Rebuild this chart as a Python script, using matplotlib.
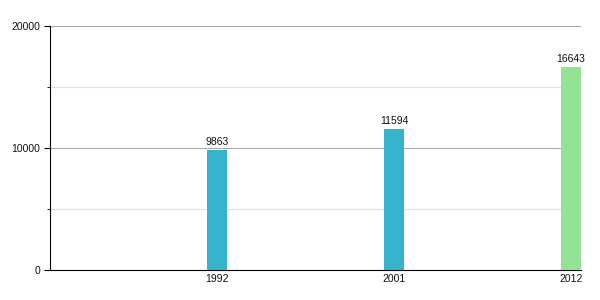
import matplotlib.pyplot as plt
from matplotlib.ticker import MultipleLocator

plt.rcParams['font.family'] = ['Liberation Sans', 'DejaVu Sans']

years = ['1992', '2001', '2012']
values = [9863, 11594, 16643]
colors = ['#35b3cd', '#35b3cd', '#94e394']

fig = plt.figure(figsize=(6, 3), dpi=100)
ax = fig.add_axes([50 / 600, 30 / 300, 531 / 600, 244 / 300])

x = list(range(len(years)))
ax.bar(x, values, width=0.113, color=colors, zorder=3)

for xi, v in zip(x, values):
    ax.annotate(str(v), (xi, v), xytext=(0, 2), textcoords='offset points',
                ha='center', va='bottom', fontsize=7.5, color='#111111')

ax.set_xlim(-0.9435, 2.0565)
ax.set_ylim(0, 20000)
ax.set_xticks(x)
ax.set_xticklabels(years)
ax.yaxis.set_major_locator(MultipleLocator(10000))
ax.yaxis.set_minor_locator(MultipleLocator(5000))
ax.grid(axis='y', which='major', color='#aaaaaa', linewidth=0.8, zorder=0)
ax.grid(axis='y', which='minor', color='#e0e0e0', linewidth=0.8, zorder=0)

for s in ['top', 'right']:
    ax.spines[s].set_visible(False)
ax.spines['left'].set_color('black')
ax.spines['bottom'].set_color('black')

ax.tick_params(axis='x', length=0, pad=3, labelsize=7.5, labelcolor='#111111')
ax.tick_params(axis='y', which='major', length=4, labelsize=7.5, pad=3,
               labelcolor='#111111')
ax.tick_params(axis='y', which='minor', length=2)

fig.savefig('out.png', dpi=100)
